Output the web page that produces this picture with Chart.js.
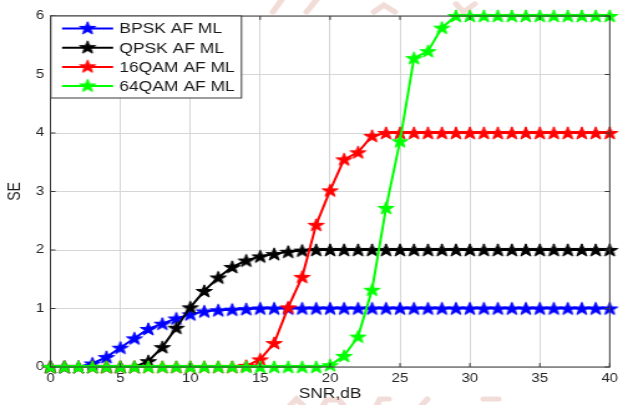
<!DOCTYPE html>
<html>
<head>
<meta charset="utf-8">
<script src="https://cdn.jsdelivr.net/npm/chart.js@4.4.1/dist/chart.umd.min.js"></script>
<style>
  html, body { margin: 0; padding: 0; background: #fff; overflow: hidden; }
  /* the source figure is stretched sideways, so draw narrow and widen */
  #wrap { width: 500px; height: 405px; transform: scaleX(1.246); transform-origin: 0 0; }
</style>
</head>
<body>
<div id="wrap"><canvas id="se-chart" width="500" height="405"></canvas></div>
<script>
const snr = [0, 1, 2, 3, 4, 5, 6, 7, 8, 9, 10, 11, 12, 13, 14, 15, 16, 17, 18, 19, 20,
             21, 22, 23, 24, 25, 26, 27, 28, 29, 30, 31, 32, 33, 34, 35, 36, 37, 38, 39, 40];

const bpsk = [0, 0, 0, 0.06, 0.17, 0.33, 0.49, 0.65, 0.74, 0.83, 0.9, 0.95, 0.97, 0.98, 0.99, 1, 1, 1, 1, 1, 1,
              1, 1, 1, 1, 1, 1, 1, 1, 1, 1, 1, 1, 1, 1, 1, 1, 1, 1, 1, 1];
const qpsk = [0, 0, 0, 0, 0, 0, 0, 0.1, 0.34, 0.67, 1.02, 1.3, 1.53, 1.71, 1.82, 1.89, 1.93, 1.97, 1.99, 2, 2,
              2, 2, 2, 2, 2, 2, 2, 2, 2, 2, 2, 2, 2, 2, 2, 2, 2, 2, 2, 2];
const qam16 = [0, 0, 0, 0, 0, 0, 0, 0, 0, 0, 0, 0, 0, 0, 0.02, 0.13, 0.41, 1.02, 1.54, 2.43, 3.02,
               3.55, 3.67, 3.95, 4, 4, 4, 4, 4, 4, 4, 4, 4, 4, 4, 4, 4, 4, 4, 4, 4];
const qam64 = [0, 0, 0, 0, 0, 0, 0, 0, 0, 0, 0, 0, 0, 0, 0, 0, 0, 0, 0, 0, 0.03,
               0.19, 0.52, 1.32, 2.72, 3.86, 5.28, 5.4, 5.8, 6, 6, 6, 6, 6, 6, 6, 6, 6, 6, 6, 6];

const seriesNames = ['BPSK AF ML', 'QPSK AF ML', '16QAM AF ML', '64QAM AF ML'];
const seriesColors = ['#0000ff', '#000000', '#ff0000', '#00ff00'];
const seriesValues = [bpsk, qpsk, qam16, qam64];

// filled pentagram marker, like matlab's 'p'
function makeStar(color) {
    const c = document.createElement('canvas');
    c.width = 16; c.height = 16;
    const g = c.getContext('2d');
    const R = 6.8, r = 2.7;
    g.beginPath();
    for (let i = 0; i < 10; i++) {
        const rad = i % 2 ? r : R;
        const a = -Math.PI / 2 + i * Math.PI / 5;
        const px = 8 + rad * Math.cos(a), py = 8.6 + rad * Math.sin(a);
        if (i === 0) g.moveTo(px, py); else g.lineTo(px, py);
    }
    g.closePath();
    g.fillStyle = color;
    g.strokeStyle = color;
    g.lineWidth = 1;
    g.fill();
    g.stroke();
    return c;
}

const stars = seriesColors.map(makeStar);

const datasets = seriesValues.map((vals, i) => ({
    label: seriesNames[i],
    data: snr.map((x, k) => ({ x: x, y: vals[k] })),
    borderColor: seriesColors[i],
    backgroundColor: seriesColors[i],
    borderWidth: 2,
    tension: 0,
    pointStyle: stars[i],
    pointRadius: 6,
    clip: false,
    order: 4 - i
}));

// box around the axes, small inward ticks on top and right
const frame = {
    id: 'frame',
    afterDatasetsDraw(chart) {
        const { ctx, chartArea: a } = chart;
        ctx.save();
        ctx.strokeStyle = '#3a3a3a';
        ctx.lineWidth = 1;
        ctx.strokeRect(a.left, a.top, a.right - a.left, a.bottom - a.top);
        ctx.beginPath();
        const xs = chart.scales.x, ys = chart.scales.y;
        [0, 5, 10, 15, 20, 25, 30, 35, 40].forEach(v => {
            const px = xs.getPixelForValue(v);
            ctx.moveTo(px, a.top); ctx.lineTo(px, a.top + 4);
            ctx.moveTo(px, a.bottom); ctx.lineTo(px, a.bottom - 4);
        });
        [0, 1, 2, 3, 4, 5, 6].forEach(v => {
            const py = ys.getPixelForValue(v);
            ctx.moveTo(a.left, py); ctx.lineTo(a.left + 4, py);
            ctx.moveTo(a.right, py); ctx.lineTo(a.right - 4, py);
        });
        ctx.stroke();
        ctx.restore();
    }
};

// matlab style legend: line with marker in the middle
const matLegend = {
    id: 'matLegend',
    afterDraw(chart) {
        const ctx = chart.ctx;
        const left = chart.chartArea.left + 0.3, top = chart.chartArea.top;
        const w = 153, h = 82;
        ctx.save();
        ctx.fillStyle = '#fff';
        ctx.fillRect(left, top, w, h);
        ctx.strokeStyle = '#3a3a3a';
        ctx.lineWidth = 1;
        ctx.strokeRect(left, top, w, h);
        ctx.font = '14px "Liberation Sans", Arial, sans-serif';
        ctx.textBaseline = 'middle';
        seriesNames.forEach((name, i) => {
            const y = top + 12.5 + i * 19.2;
            ctx.strokeStyle = seriesColors[i];
            ctx.lineWidth = 2;
            ctx.beginPath();
            ctx.moveTo(left + 9, y);
            ctx.lineTo(left + 50, y);
            ctx.stroke();
            ctx.drawImage(stars[i], left + 29.5 - 8, y - 8.6);
            ctx.fillStyle = '#1a1a1a';
            ctx.fillText(name, left + 55, y + 1);
        });
        ctx.restore();
    }
};

// faint scraps of the page watermark above and below the plot
const watermark = {
    id: 'watermark',
    afterDraw(chart) {
        const ctx = chart.ctx;
        ctx.save();
        ctx.strokeStyle = 'rgba(205, 130, 110, 0.28)';
        ctx.lineWidth = 5;
        ctx.lineCap = 'round';
        const bits = [
            [[227, -2], [219, 12]], [[255, -2], [246, 12]],
            [[300, 12], [308, 5], [317, 12]], [[366, 4], [372, 12], [381, 4]],
            [[233, 405], [238, 399], [243, 405]], [[259, 406], [262, 400], [272, 400], [276, 406]],
            [[302, 406], [305, 399], [312, 399]], [[338, 406], [343, 399]], [[388, 399], [400, 399]]
        ];
        bits.forEach(pts => {
            ctx.beginPath();
            pts.forEach((p, k) => k ? ctx.lineTo(p[0], p[1]) : ctx.moveTo(p[0], p[1]));
            ctx.stroke();
        });
        ctx.restore();
    }
};

const tickFont = { family: '"Liberation Sans", Arial, sans-serif', size: 12 };

new Chart(document.getElementById('se-chart'), {
    type: 'line',
    data: { datasets: datasets },
    options: {
        responsive: false,
        animation: false,
        layout: { padding: { top: 16, right: 6, left: 0, bottom: 0 } },
        plugins: { legend: { display: false }, tooltip: { enabled: false } },
        scales: {
            x: {
                type: 'linear', min: 0, max: 40,
                ticks: { stepSize: 5, font: tickFont, color: '#262626', padding: 4 },
                grid: { color: '#d6d6d6', drawTicks: false },
                border: { display: false },
                title: { display: true, text: 'SNR,dB', color: '#1a1a1a',
                         font: { family: '"Liberation Sans", Arial, sans-serif', size: 14 },
                         padding: { top: 0, bottom: 2 } },
                afterFit(s) { s.height = 38; }
            },
            y: {
                type: 'linear', min: 0, max: 6,
                ticks: { stepSize: 1, font: tickFont, color: '#262626', padding: 5 },
                grid: { color: '#d6d6d6', drawTicks: false },
                border: { display: false },
                title: { display: true, text: 'SE', color: '#1a1a1a',
                         font: { family: '"Liberation Sans", Arial, sans-serif', size: 14 },
                         padding: { top: 4, bottom: 0 } },
                afterFit(s) { s.width = 40.5; }
            }
        }
    },
    plugins: [frame, matLegend, watermark]
});
</script>
</body>
</html>
